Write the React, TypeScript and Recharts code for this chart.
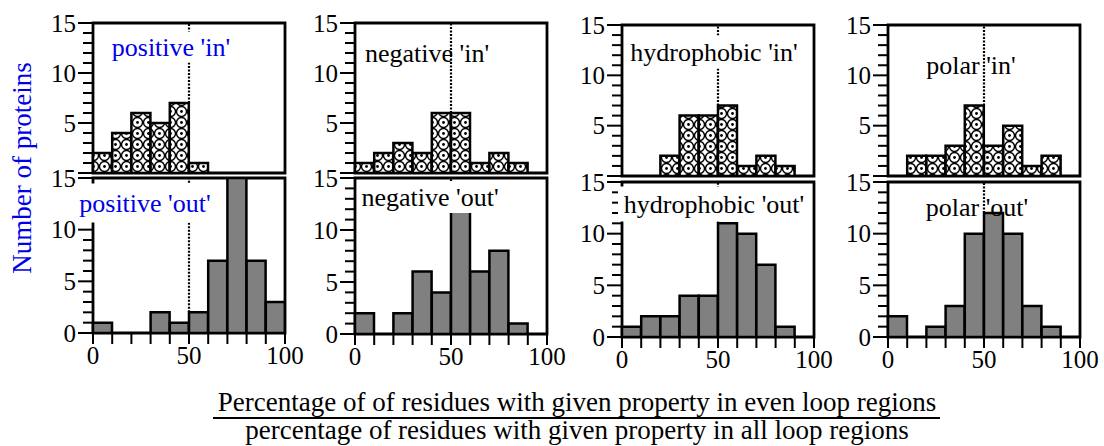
import { BarChart, Bar, XAxis, YAxis, ReferenceLine, ReferenceArea } from 'recharts';

// histogram bins (percent ratio, width 10), given by their lower edge
const binStart = [0, 10, 20, 30, 40, 50, 60, 70, 80, 90];
const xTicks = [0, 10, 20, 30, 40, 50, 60, 70, 80, 90, 100];
const xTickLabels = [0, 50, 100];
const yTicks = [0, 1, 2, 3, 4, 5, 6, 7, 8, 9, 10, 11, 12, 13, 14, 15];
const yMajor = [0, 5, 10, 15];

const properties = ['positive', 'negative', 'hydrophobic', 'polar'];

// number of proteins per bin, 'in' topologies
const positiveIn = [2, 4, 6, 5, 7, 1, 0, 0, 0, 0];
const negativeIn = [1, 2, 3, 2, 6, 6, 1, 2, 1, 0];
const hydrophobicIn = [0, 0, 2, 6, 6, 7, 1, 2, 1, 0];
const polarIn = [0, 2, 2, 3, 7, 3, 5, 1, 2, 0];

// 'out' topologies
const positiveOut = [1, 0, 0, 2, 1, 2, 7, 15, 7, 3];
const negativeOut = [2, 0, 2, 6, 4, 12, 6, 8, 1, 0];
const hydrophobicOut = [1, 2, 2, 4, 4, 11, 10, 7, 1, 0];
const polarOut = [2, 0, 1, 3, 10, 12, 10, 3, 1, 0];

const inSeries = [positiveIn, negativeIn, hydrophobicIn, polarIn];
const outSeries = [positiveOut, negativeOut, hydrophobicOut, polarOut];

// layout (page pixels)
const FONT = '"Liberation Serif", "Times New Roman", serif';
const BLUE = '#0000e8';
const PLOT_W = 192;
const AXIS_W = 60;
const RIGHT_W = 20;
const M_TOP = 16;
const M_BOTTOM = 2;
const colLeft = [93, 355, 622, 888];
const rowTop = [[23, 23, 25, 25], [178, 178, 182, 182]];
const rowBottom = [[173, 173, 176, 176], [333, 334, 337, 337]];

// panel label boxes: [cx, cy, boxW, boxH, whiteBackground]
const labelBoxes: [number, number, number, number, boolean][][] = [
  [[171, 47, 140, 31, true], [427, 53, 0, 0, false], [714, 52, 176, 33, true], [971, 65, 0, 0, false]],
  [[145, 203, 142, 39, true], [430, 197, 144, 32, true], [714, 204, 192, 35, true], [977, 207, 0, 0, false]],
];

function Panel({ values, row, col }: { values: number[]; row: number; col: number }) {
  const top = rowTop[row][col];
  const plotH = rowBottom[row][col] - top;
  const xAxisH = row === 1 ? 44 : 0;
  const width = AXIS_W + PLOT_W + RIGHT_W;
  const height = M_TOP + plotH + xAxisH + M_BOTTOM;
  const data = binStart.map((start, i) => ({ bin: `${start}-${start + 10}`, start, count: values[i] }));
  const patId = `circles-${row}-${col}`;
  const axisY = M_TOP + plotH;
  const lineFrom = Math.max(values[4], values[5]);

  const leftTick = (p: any) => {
    const v = p.payload.value;
    const major = yMajor.includes(v);
    const showLabel = major && !(row === 0 && v === 0);
    return (
      <g>
        <line x1={AXIS_W - (major ? 15 : 10)} x2={AXIS_W} y1={p.y} y2={p.y} stroke="#000" strokeWidth={2} />
        {showLabel && (
          <text x={AXIS_W - 17} y={p.y + 8.5} textAnchor="end" fontSize={25} fontFamily={FONT} fill="#000">
            {v}
          </text>
        )}
      </g>
    );
  };

  const rightTick = (p: any) => {
    const major = yMajor.includes(p.payload.value);
    const x0 = AXIS_W + PLOT_W;
    return <line x1={x0} x2={x0 + (major ? 15 : 10)} y1={p.y} y2={p.y} stroke="#000" strokeWidth={2} />;
  };

  const bottomTick = (p: any) => {
    const v = p.payload.value;
    return (
      <g>
        <line x1={p.x} x2={p.x} y1={axisY} y2={axisY + 11} stroke="#000" strokeWidth={2} />
        {xTickLabels.includes(v) && (
          <text x={p.x} y={axisY + 31} textAnchor="middle" fontSize={25} fontFamily={FONT} fill="#000">
            {v}
          </text>
        )}
      </g>
    );
  };

  return (
    <div style={{ position: 'absolute', left: colLeft[col] - AXIS_W, top: top - M_TOP }}>
      <BarChart
        width={width}
        height={height}
        data={data}
        margin={{ top: M_TOP, right: 0, bottom: M_BOTTOM, left: 0 }}
        barCategoryGap={0}
        barGap={0}
      >
        <defs>
          <pattern id={patId} width={11} height={11} patternUnits="userSpaceOnUse">
            <rect width={11} height={11} fill="#fff" />
            <circle cx={5.5} cy={5.5} r={5} fill="none" stroke="#000" strokeWidth={1.4} />
            <circle cx={5.5} cy={5.5} r={1.4} fill="#000" />
          </pattern>
        </defs>
        <XAxis xAxisId="bin" dataKey="bin" hide />
        <XAxis
          xAxisId="pct"
          dataKey="start"
          type="number"
          domain={[0, 100]}
          allowDataOverflow
          ticks={xTicks}
          interval={0}
          hide={row === 0}
          height={xAxisH}
          axisLine={false}
          tickLine={false}
          tick={bottomTick}
        />
        <YAxis
          yAxisId="l"
          domain={[0, 15]}
          ticks={yTicks}
          interval={0}
          width={AXIS_W}
          allowDataOverflow
          axisLine={false}
          tickLine={false}
          tick={leftTick}
        />
        <YAxis
          yAxisId="r"
          orientation="right"
          domain={[0, 15]}
          ticks={yTicks}
          interval={0}
          width={RIGHT_W}
          axisLine={false}
          tickLine={false}
          tick={rightTick}
        />
        <ReferenceLine
          xAxisId="pct"
          yAxisId="l"
          segment={[{ x: 50, y: lineFrom }, { x: 50, y: 15 }]}
          stroke="#000"
          strokeWidth={2.2}
          strokeDasharray="2 1.5"
          ifOverflow="visible"
        />
        <Bar
          xAxisId="bin"
          yAxisId="l"
          dataKey="count"
          fill={row === 0 ? `url(#${patId})` : '#808080'}
          stroke="#000"
          strokeWidth={2.5}
          isAnimationActive={false}
        />
        <ReferenceArea
          xAxisId="pct"
          yAxisId="l"
          x1={0}
          x2={100}
          y1={0}
          y2={15}
          fill="none"
          fillOpacity={0}
          stroke="#000"
          strokeWidth={2.8}
          ifOverflow="visible"
        />
      </BarChart>
    </div>
  );
}

export default function App() {
  return (
    <div style={{ position: 'absolute', left: 0, top: 0, width: 1104, height: 446, background: '#fff', overflow: 'hidden' }}>
      {inSeries.map((v, c) => (
        <Panel key={`in-${c}`} values={v} row={0} col={c} />
      ))}
      {outSeries.map((v, c) => (
        <Panel key={`out-${c}`} values={v} row={1} col={c} />
      ))}
      <svg width={1104} height={446} style={{ position: 'absolute', left: 0, top: 0, pointerEvents: 'none' }}>
        {labelBoxes.map((rowBoxes, r) =>
          rowBoxes.map(([cx, cy, w, h, bg], c) => (
            <g key={`lab-${r}-${c}`}>
              {bg && <rect x={cx - w / 2} y={cy - h / 2} width={w} height={h} fill="#fff" />}
              <text
                x={cx}
                y={cy}
                textAnchor="middle"
                dominantBaseline="central"
                fontSize={26}
                fontFamily={FONT}
                fill={c === 0 ? BLUE : '#000'}
              >
                {`${properties[c]} '${r === 0 ? 'in' : 'out'}'`}
              </text>
            </g>
          ))
        )}
        <text
          transform="translate(22,168) rotate(-90)"
          textAnchor="middle"
          dominantBaseline="central"
          fontSize={27}
          fontFamily={FONT}
          fill={BLUE}
        >
          Number of proteins
        </text>
        <text x={577} y={411} textAnchor="middle" fontSize={27} fontFamily={FONT} fill="#000">
          Percentage of of residues with given property in even loop regions
        </text>
        <line x1={213} x2={940} y1={418} y2={418} stroke="#000" strokeWidth={2} />
        <text x={577} y={439} textAnchor="middle" fontSize={27} fontFamily={FONT} fill="#000">
          percentage of residues with given property in all loop regions
        </text>
      </svg>
    </div>
  );
}
